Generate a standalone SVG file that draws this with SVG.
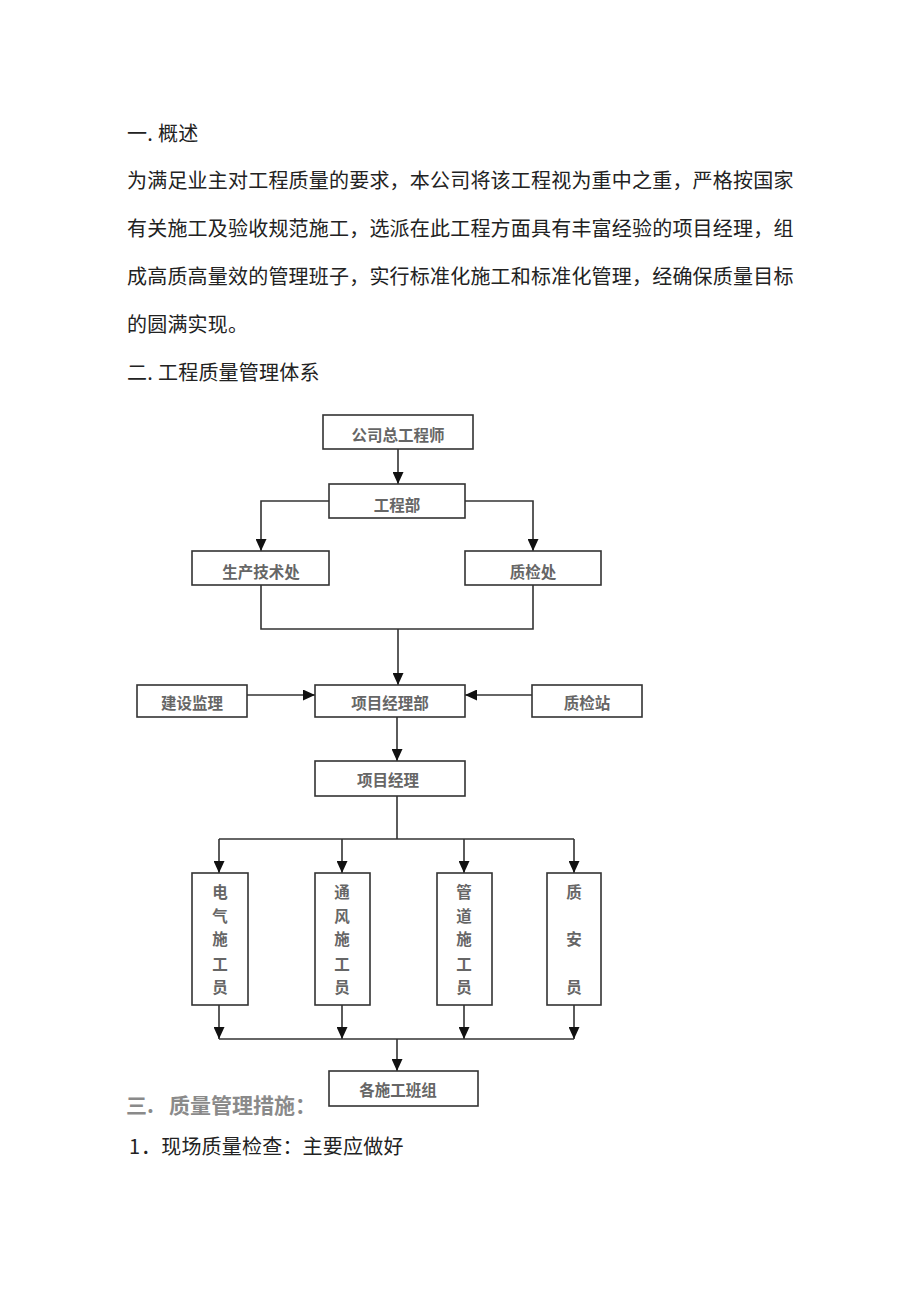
<svg xmlns="http://www.w3.org/2000/svg" width="920" height="1301" viewBox="0 0 920 1301">
<style>
.body{font-family:"Noto Sans CJK SC","Noto Sans",sans-serif;font-size:20px;fill:#222;letter-spacing:0.2px}
.h3{font-family:"Noto Sans CJK SC","Noto Sans",sans-serif;font-size:21px;font-weight:bold;fill:#8a8a8a}
.box{fill:#fff;stroke:#333;stroke-width:1.6}
.lbl{font-family:"Noto Sans CJK SC","Noto Sans",sans-serif;font-size:15.5px;font-weight:bold;fill:#666;text-anchor:middle}
.ln{fill:none;stroke:#333;stroke-width:1.6}
</style>
<defs>
<marker id="ah" markerUnits="userSpaceOnUse" markerWidth="12" markerHeight="11" refX="12" refY="5.5" orient="auto">
<path d="M0,0 L12,5.5 L0,11 z" fill="#111"/>
</marker>
</defs>
<rect width="920" height="1301" fill="#fff"/>
<g id="text">
<text class="body" x="127" y="141">一.</text><text class="body" x="158" y="141">概述</text>
<text class="body" x="127" y="188">为满足业主对工程质量的要求，本公司将该工程视为重中之重，严格按国家</text>
<text class="body" x="127" y="236">有关施工及验收规范施工，选派在此工程方面具有丰富经验的项目经理，组</text>
<text class="body" x="127" y="284">成高质高量效的管理班子，实行标准化施工和标准化管理，经确保质量目标</text>
<text class="body" x="127" y="332">的圆满实现。</text>
<text class="body" x="127" y="380">二.</text><text class="body" x="158" y="380">工程质量管理体系</text>
<text class="h3" x="126" y="1113">三.</text><text class="h3" x="169" y="1113">质量管理措施：</text>
<text class="body" x="129" y="1154">1</text><text class="body" x="141" y="1154">．现场质量检查：主要应做好</text>
</g>
<g id="connectors">
<path class="ln" d="M398,449 V484" marker-end="url(#ah)"/>
<path class="ln" d="M329,501 H261 V551" marker-end="url(#ah)"/>
<path class="ln" d="M465,501 H533 V551" marker-end="url(#ah)"/>
<path class="ln" d="M261,585 V629 H533 V585"/>
<path class="ln" d="M398,629 V685" marker-end="url(#ah)"/>
<path class="ln" d="M247,695 H315" marker-end="url(#ah)"/>
<path class="ln" d="M532,695 H465" marker-end="url(#ah)"/>
<path class="ln" d="M397,717 V761" marker-end="url(#ah)"/>
<path class="ln" d="M397,796 V839"/>
<path class="ln" d="M219,839 H574"/>
<path class="ln" d="M219,839 V873" marker-end="url(#ah)"/>
<path class="ln" d="M342,839 V873" marker-end="url(#ah)"/>
<path class="ln" d="M464,839 V873" marker-end="url(#ah)"/>
<path class="ln" d="M574,839 V873" marker-end="url(#ah)"/>
<path class="ln" d="M219,1005 V1039" marker-end="url(#ah)"/>
<path class="ln" d="M342,1005 V1039" marker-end="url(#ah)"/>
<path class="ln" d="M464,1005 V1039" marker-end="url(#ah)"/>
<path class="ln" d="M574,1005 V1039" marker-end="url(#ah)"/>
<path class="ln" d="M219,1039 H574"/>
<path class="ln" d="M397,1039 V1071" marker-end="url(#ah)"/>
</g>
<g id="n-gcs"><rect class="box" x="323" y="415" width="150" height="34"/><text class="lbl" x="398" y="441">公司总工程师</text></g>
<g id="n-gcb"><rect class="box" x="329" y="484" width="136" height="34"/><text class="lbl" x="397" y="511">工程部</text></g>
<g id="n-scjs"><rect class="box" x="192" y="551" width="137" height="34"/><text class="lbl" x="261" y="578">生产技术处</text></g>
<g id="n-zjc"><rect class="box" x="465" y="551" width="136" height="34"/><text class="lbl" x="533" y="578">质检处</text></g>
<g id="n-jsjl"><rect class="box" x="137" y="685" width="110" height="32"/><text class="lbl" x="192" y="709">建设监理</text></g>
<g id="n-xmjlb"><rect class="box" x="315" y="685" width="150" height="32"/><text class="lbl" x="390" y="709">项目经理部</text></g>
<g id="n-zjz"><rect class="box" x="532" y="685" width="110" height="32"/><text class="lbl" x="587" y="709">质检站</text></g>
<g id="n-xmjl"><rect class="box" x="315" y="761" width="150" height="35"/><text class="lbl" x="388" y="786">项目经理</text></g>
<g id="n-dq"><rect class="box" x="192" y="873" width="56" height="132"/>
<text class="lbl" x="220" y="898">电</text><text class="lbl" x="220" y="922">气</text><text class="lbl" x="220" y="945">施</text><text class="lbl" x="220" y="970">工</text><text class="lbl" x="220" y="993">员</text></g>
<g id="n-tf"><rect class="box" x="315" y="873" width="55" height="132"/>
<text class="lbl" x="342" y="898">通</text><text class="lbl" x="342" y="922">风</text><text class="lbl" x="342" y="945">施</text><text class="lbl" x="342" y="970">工</text><text class="lbl" x="342" y="993">员</text></g>
<g id="n-gd"><rect class="box" x="437" y="873" width="55" height="132"/>
<text class="lbl" x="464" y="898">管</text><text class="lbl" x="464" y="922">道</text><text class="lbl" x="464" y="945">施</text><text class="lbl" x="464" y="970">工</text><text class="lbl" x="464" y="993">员</text></g>
<g id="n-za"><rect class="box" x="547" y="873" width="54" height="132"/>
<text class="lbl" x="574" y="898">质</text><text class="lbl" x="574" y="945">安</text><text class="lbl" x="574" y="993">员</text></g>
<g id="n-bz"><rect class="box" x="329" y="1071" width="149" height="35"/><text class="lbl" x="398" y="1096">各施工班组</text></g>
</svg>
